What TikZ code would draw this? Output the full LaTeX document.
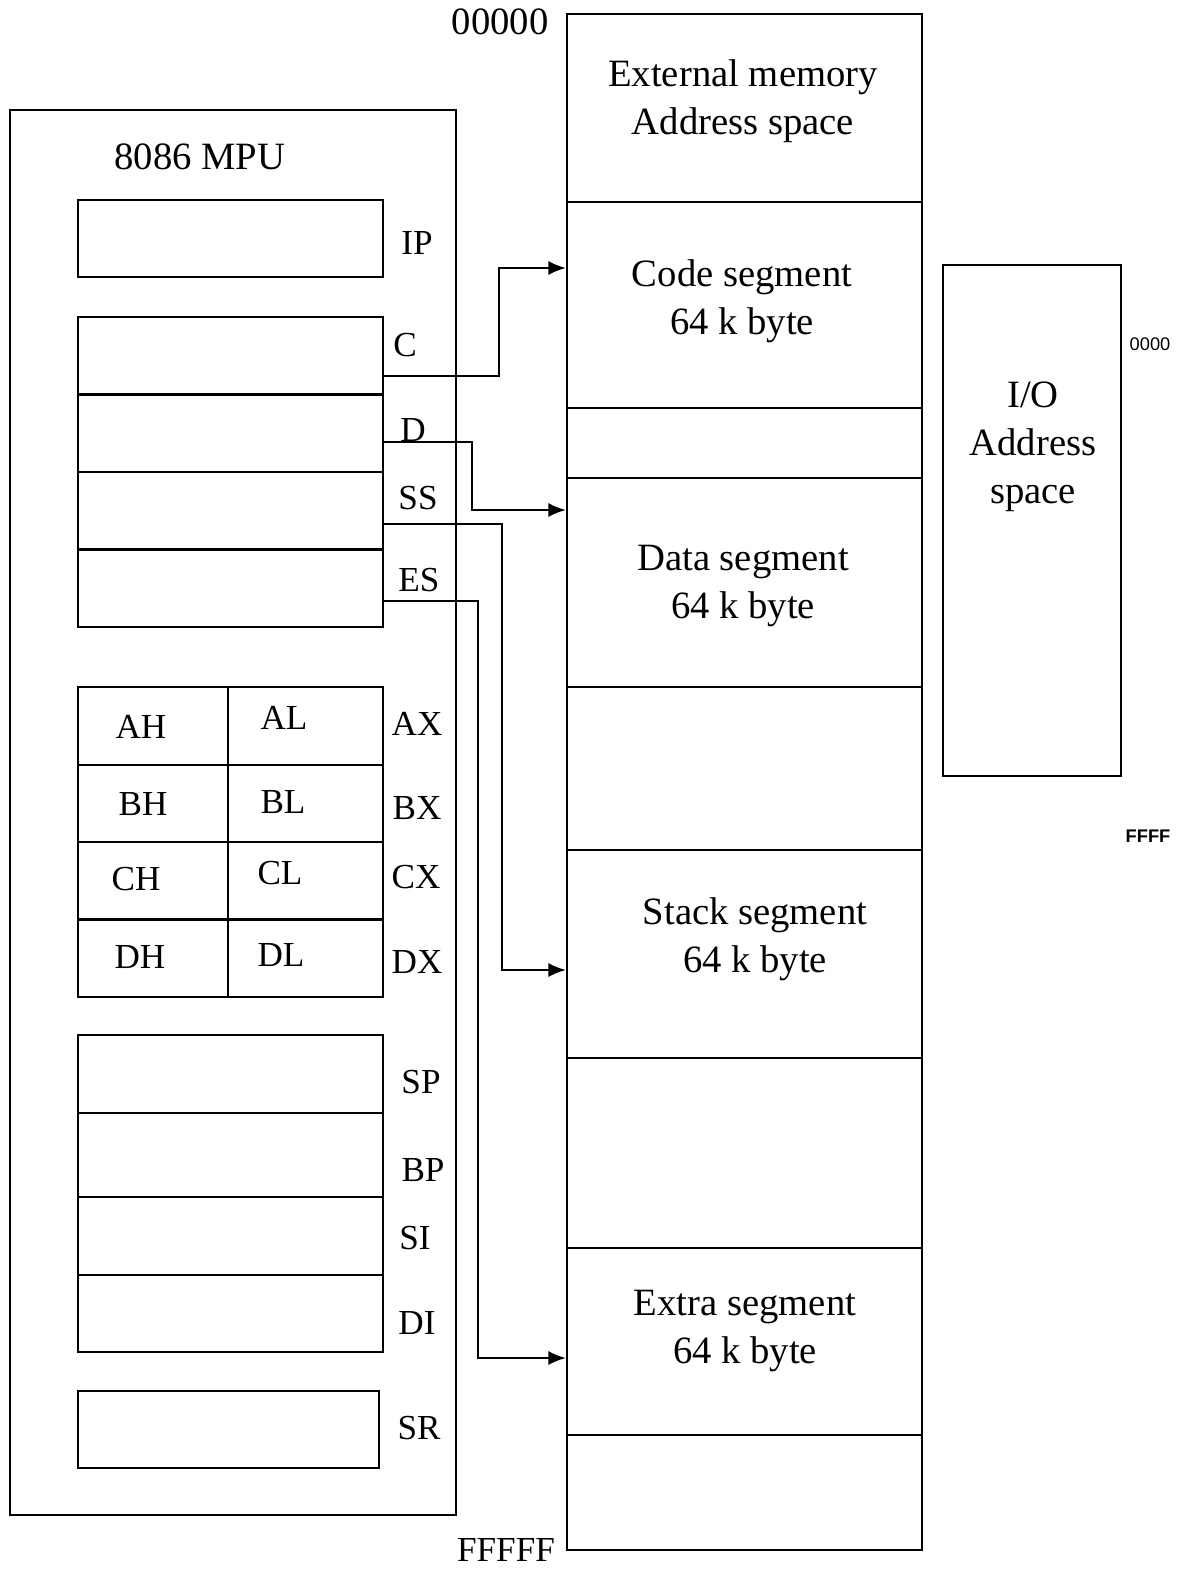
\documentclass[tikz,border=0pt]{standalone}
\usepackage{fontspec}
\setmainfont{Liberation Serif}
\newfontfamily\tinysans{Liberation Sans}
\usetikzlibrary{arrows.meta,positioning,calc}
\tikzset{
  reg/.style  ={draw,line width=0.6pt,minimum width=30.5mm,minimum height=7.75mm,inner sep=0pt},
  cell/.style ={draw,line width=0.6pt,minimum height=7.75mm,inner sep=0pt},
  seg/.style  ={draw,line width=0.6pt,minimum width=35.5mm,inner sep=0pt},
  txt/.style  ={font=\fontsize{11}{13.6}\selectfont,align=center,inner sep=0pt},
  lbl/.style  ={font=\fontsize{10}{12}\selectfont,inner sep=0pt},
  addr/.style ={font=\tinysans\fontsize{5.2}{6}\selectfont,inner sep=0pt},
  ar/.style   ={-{Latex[length=5pt,width=4pt]},line width=0.6pt},
}
\begin{document}
\begin{tikzpicture}[x=0.1mm,y=-0.1mm]
  \useasboundingbox (0,0) rectangle (1179,1572);
  % processor side
  \node[draw,line width=0.6pt,minimum width=44.6mm,minimum height=140.5mm,inner sep=0pt] (mpu) at (233,812.5) {};
  \node[txt] (mputitle) at (200,157) {8086 MPU};

  \node[reg] (ip) at (230.5,238.5) {};
  \node[reg] (cs) at (230.5,355.75) {};
  \node[reg] (ds) at (230.5,433.25) {};
  \node[reg] (ss) at (230.5,510.75) {};
  \node[reg] (es) at (230.5,588.25) {};
  \node[lbl] (iplbl) at (417,243) {IP};
  \node[lbl] (cslbl) at (405,345) {C};
  \node[lbl] (dslbl) at (413,430) {D};
  \node[lbl] (sslbl) at (418,498) {SS};
  \node[lbl] (eslbl) at (419,580) {ES};

  \node[cell,minimum width=15mm] (ah) at (153,726) {};
  \node[cell,minimum width=15.5mm] (al) at (305.5,726) {};
  \node[cell,minimum width=15mm] (bh) at (153,803.5) {};
  \node[cell,minimum width=15.5mm] (bl) at (305.5,803.5) {};
  \node[cell,minimum width=15mm] (ch) at (153,881) {};
  \node[cell,minimum width=15.5mm] (cl) at (305.5,881) {};
  \node[cell,minimum width=15mm] (dh) at (153,958) {};
  \node[cell,minimum width=15.5mm] (dl) at (305.5,958) {};
  \node[lbl] (ahlbl) at (141,727) {AH};
  \node[lbl] (allbl) at (284,718) {AL};
  \node[lbl] (bhlbl) at (143,804) {BH};
  \node[lbl] (bllbl) at (283,802) {BL};
  \node[lbl] (chlbl) at (136,879) {CH};
  \node[lbl] (cllbl) at (280,873) {CL};
  \node[lbl] (dhlbl) at (140,957) {DH};
  \node[lbl] (dllbl) at (281,955) {DL};
  \node[lbl] (axlbl) at (417,724) {AX};
  \node[lbl] (bxlbl) at (417,808) {BX};
  \node[lbl] (cxlbl) at (416,877) {CX};
  \node[lbl] (dxlbl) at (417,962) {DX};

  \node[reg,minimum height=7.8mm] (sp) at (230.5,1074) {};
  \node[reg,minimum height=8.4mm] (bp) at (230.5,1155) {};
  \node[reg,minimum height=7.8mm] (si) at (230.5,1236) {};
  \node[reg,minimum height=7.7mm] (di) at (230.5,1313.5) {};
  \node[reg,minimum width=30.1mm] (sr) at (228.5,1429.5) {};
  \node[lbl] (splbl) at (421,1082) {SP};
  \node[lbl] (bplbl) at (423,1170) {BP};
  \node[lbl] (silbl) at (415,1238) {SI};
  \node[lbl] (dilbl) at (417,1323) {DI};
  \node[lbl] (srlbl) at (419,1428) {SR};

  % memory side
  \node[seg,minimum height=18.8mm] (ext)   at (744.5,108) {};
  \node[seg,minimum height=20.6mm] (code)  at (744.5,305) {};
  \node[seg,minimum height=7.0mm]  (gapa)  at (744.5,443) {};
  \node[seg,minimum height=20.9mm] (data)  at (744.5,582.5) {};
  \node[seg,minimum height=16.3mm] (gapb)  at (744.5,768.5) {};
  \node[seg,minimum height=20.8mm] (stack) at (744.5,954) {};
  \node[seg,minimum height=19.0mm] (gapc)  at (744.5,1153) {};
  \node[seg,minimum height=18.7mm] (extra) at (744.5,1341.5) {};
  \node[seg,minimum height=11.5mm] (gapd)  at (744.5,1492.5) {};
  \node[txt] (exttxt)   at (743,101) {External memory\\Address space};
  \node[txt] (codetxt)  at (742,301) {Code segment\\64 k byte};
  \node[txt] (datatxt)  at (743,586) {Data segment\\64 k byte};
  \node[txt] (stacktxt) at (755,939) {Stack segment\\64 k byte};
  \node[txt] (extratxt) at (745,1331) {Extra segment\\64 k byte};
  \node[txt] (lowaddr)  at (500,22) {00000};
  \node[lbl] (highaddr) at (506,1550) {FFFFF};

  % I/O side
  \node[draw,line width=0.6pt,minimum width=17.8mm,minimum height=51.1mm,inner sep=0pt] (io) at (1032,520.5) {};
  \node[txt] (iotxt) at (1033,447) {I/O\\Address\\space};
  \node[addr] (iolow)  at (1150,344) {0000};
  \node[addr,font=\tinysans\bfseries\fontsize{5.2}{6}\selectfont] (iohigh) at (1148,836) {FFFF};

  % segment pointers
  \coordinate (csout) at (cs.east |- 0,376);
  \coordinate (dsout) at (ds.east |- 0,442);
  \coordinate (ssout) at (ss.east |- 0,524);
  \coordinate (esout) at (es.east |- 0,601);
  \coordinate (codein)  at (code.west |- 0,268);
  \coordinate (datain)  at (data.west |- 0,510);
  \coordinate (stackin) at (stack.west |- 0,970);
  \coordinate (extrain) at (extra.west |- 0,1358);
  \draw[ar] (csout) -- ++(115,0) |- (codein);
  \draw[ar] (dsout) -- ++(88,0) |- (datain);
  \draw[ar] (ssout) -- ++(118,0) |- (stackin);
  \draw[ar] (esout) -- ++(94,0) |- (extrain);
\end{tikzpicture}
\end{document}
